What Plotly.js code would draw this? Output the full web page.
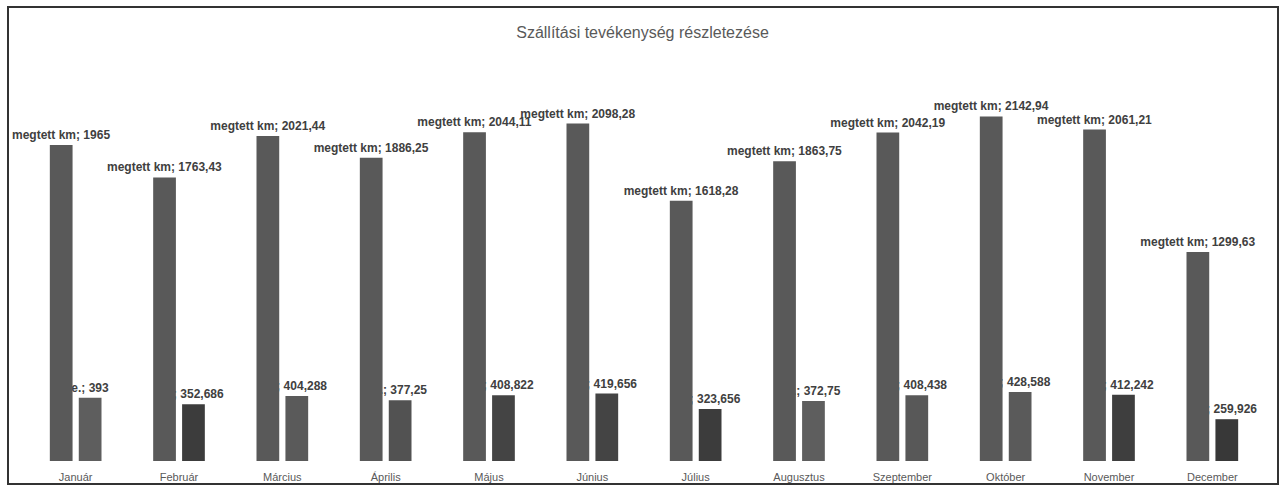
<!DOCTYPE html>
<html>
<head>
<meta charset="utf-8">
<script src="https://cdn.plot.ly/plotly-3.0.1.min.js"></script>
<style>html,body{margin:0;padding:0;background:#fff;}#chart{width:1285px;height:495px;}</style>
</head>
<body>
<div id="chart"></div>
<script>
const months = ["Január","Február","Március","Április","Május","Június","Július","Augusztus","Szeptember","Október","November","December"];
const megtettKm = [1965, 1763.43, 2021.44, 1886.25, 2044.11, 2098.28, 1618.28, 1863.75, 2042.19, 2142.94, 2061.21, 1299.63];
const masodikSor = [393, 352.686, 404.288, 377.25, 408.822, 419.656, 323.656, 372.75, 408.438, 428.588, 412.242, 259.926];
const masodikSzinek = ["#5e5e5e","#3c3c3c","#5a5a5a","#525252","#444444","#444444","#3c3c3c","#5e5e5e","#585858","#5a5a5a","#3e3e3e","#383838"];

const fmt = v => String(v).replace('.', ',');
const labelFont = {family: "Liberation Sans, Arial, sans-serif", size: 12, color: "#404040", weight: "bold"};

const trace2 = {
  type: "bar", x: months, y: masodikSor, name: "e.",
  text: masodikSor.map(fmt), texttemplate: "e.; %{text}",
  textposition: "outside", constraintext: "none", cliponaxis: false,
  textfont: labelFont,
  marker: {color: masodikSzinek},
  width: 0.22, offset: 0.03, hoverinfo: "skip"
};
const trace1 = {
  type: "bar", x: months, y: megtettKm, name: "megtett km",
  text: megtettKm.map(fmt), texttemplate: "megtett km; %{text}",
  textposition: "outside", constraintext: "none", cliponaxis: false,
  textfont: labelFont,
  marker: {color: "#595959"},
  width: 0.22, offset: -0.25, hoverinfo: "skip"
};

const L = 24, R = 21, T = 59, B = 34, W = 1285, H = 495;
const pw = W - L - R, ph = H - T - B;
const layout = {
  width: W, height: H,
  margin: {l: L, r: R, t: T, b: B, pad: 0},
  paper_bgcolor: "#ffffff", plot_bgcolor: "#ffffff",
  barmode: "overlay", showlegend: false,
  title: {text: "Szállítási tevékenység részletezése", font: {family: "Liberation Sans, Arial, sans-serif", size: 16, color: "#595959"},
          x: 0.5, xanchor: "center", y: 1 - 32/495, yanchor: "middle", yref: "container"},
  xaxis: {type: "category", range: [-0.5, 11.5], showgrid: false, zeroline: false, showline: false, ticks: "",
          ticklabelstandoff: 8,
          tickfont: {family: "Liberation Sans, Arial, sans-serif", size: 11, color: "#595959"}, fixedrange: true},
  yaxis: {range: [0, 2500], visible: false, showgrid: false, zeroline: false, fixedrange: true},
  shapes: [{type: "rect", xref: "paper", yref: "paper",
            x0: (8 - L)/pw, x1: (1278 - L)/pw, y0: (H - B - 484)/ph, y1: (H - B - 7)/ph,
            line: {color: "#333333", width: 2}, fillcolor: "rgba(0,0,0,0)"}]
};
Plotly.newPlot("chart", [trace2, trace1], layout, {displayModeBar: false, staticPlot: true});
</script>
</body>
</html>
